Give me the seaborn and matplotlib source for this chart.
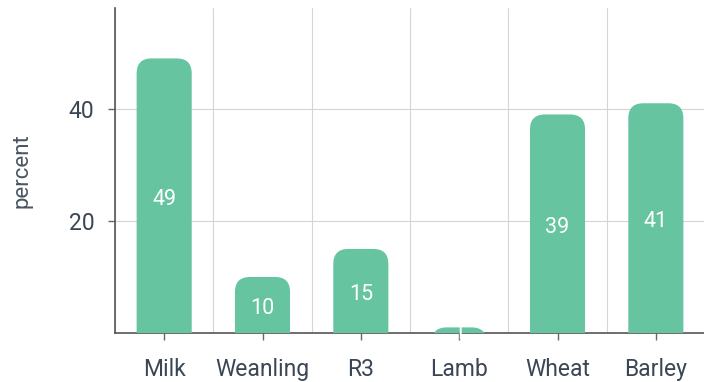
import matplotlib
matplotlib.use("Agg")
import matplotlib.pyplot as plt
import seaborn as sns
import pandas as pd
from matplotlib.patches import FancyBboxPatch

categories = ["Milk", "Weanling", "R3", "Lamb", "Wheat", "Barley"]
values = [49, 10, 15, 1, 39, 41]
yticks = [20, 40]

df = pd.DataFrame({"cat": categories, "val": values})

sns.set_theme(style="white")
plt.rcParams["font.family"] = ["Roboto", "DejaVu Sans"]

BAR = "#66c4a0"
TXT = "#3a4654"

fig = plt.figure(figsize=(7.04, 3.82), dpi=100)
ax = fig.add_axes([115/704, 1-333/382, 590/704, (333-8)/382])

sns.barplot(data=df, x="cat", y="val", color=BAR, width=0.56, ax=ax,
            saturation=1, zorder=3)
ax.set_ylim(0, 58)
ax.set_xlim(-0.5, 5.5)

# replace bars with rounded-top versions
px_per_x = 590/6
px_per_y = 325/58
r_px = 15
r_x = r_px/px_per_x
aspect = (r_px/px_per_y)/r_x
for p in list(ax.patches):
    x, w, h = p.get_x(), p.get_width(), p.get_height()
    p.set_visible(False)
    fb = FancyBboxPatch((x, -6), w, h + 6,
                        boxstyle=f"round,pad=0,rounding_size={r_x}",
                        mutation_aspect=aspect, facecolor=BAR,
                        edgecolor="none", zorder=3, clip_on=True)
    ax.add_patch(fb)
    ax.text(x + w/2, h/2 - 0.6, f"{int(h)}", ha="center", va="center",
            color="white", fontsize=15.5, zorder=4)

ax.set_yticks(yticks)
ax.set_yticklabels([str(t) for t in yticks])
ax.set_xticks(range(len(categories)))
ax.set_xticklabels(categories)
ax.set_xticks([i + 0.5 for i in range(-1, 6)], minor=True)
ax.grid(False)
ax.yaxis.grid(True, color="#d5d5d5", linewidth=0.8, zorder=0)
ax.xaxis.grid(True, which="minor", color="#d5d5d5", linewidth=0.8, zorder=0)
ax.tick_params(axis="x", which="minor", length=0)
ax.tick_params(axis="both", which="major", length=5, width=1, color="#666666",
               labelsize=16.5, labelcolor=TXT, direction="out",
               bottom=True, left=True)
ax.tick_params(axis="x", pad=13)
ax.tick_params(axis="y", pad=10)

for s in ["top", "right"]:
    ax.spines[s].set_visible(False)
for s in ["left", "bottom"]:
    ax.spines[s].set_color("#555555")
    ax.spines[s].set_linewidth(1.2)

ax.set_xlabel("")
ax.set_ylabel("percent", fontsize=16, color="#4a5563", labelpad=26)

fig.savefig("out.png", dpi=100)
